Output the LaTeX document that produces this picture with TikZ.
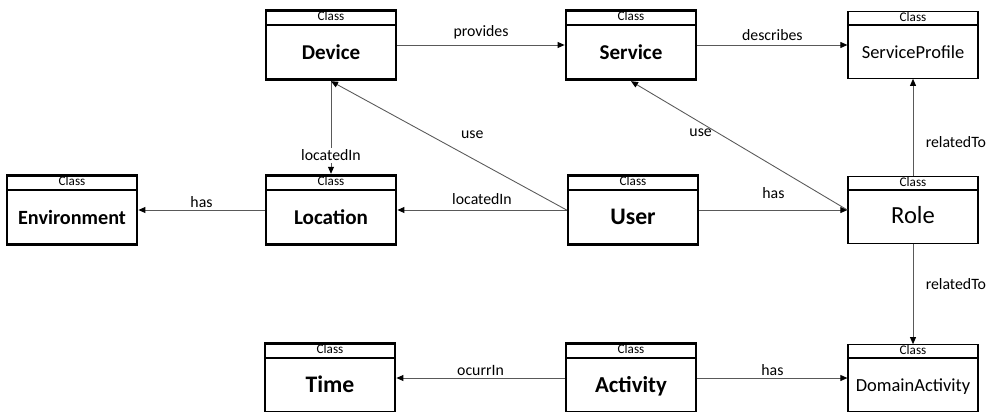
\documentclass[tikz,border=0pt]{standalone}
\usepackage{fontspec}
\setmainfont{Carlito}
\usetikzlibrary{shapes.multipart,arrows.meta}

\newcommand{\clshead}{\rule[-1.6pt]{0pt}{6.8pt}{\normalfont\fontsize{7.5}{7.5}\selectfont Class}}
\newcommand{\clsname}[1]{\rule[-10.9pt]{0pt}{29.6pt}#1}

\begin{document}
\begin{tikzpicture}[x=0.02cm, y=-0.02cm,
    cls/.style={rectangle split, rectangle split parts=2, draw, line width=1.6pt,
      minimum width=2.6cm, inner ysep=0pt, inner xsep=2pt,
      font=\bfseries\fontsize{12}{12}\selectfont},
    clsthin/.style={cls, line width=0.7pt, font=\fontsize{10.5}{12}\selectfont},
    conn/.style={draw=black!65, line width=0.5pt, -{Triangle[length=4pt, width=3.4pt, black]}},
    lbl/.style={font=\fontsize{9}{10}\selectfont, inner sep=1pt}]
  \useasboundingbox (0,0) rectangle (1000,412);

  % top row
  \node[cls] (device) at (331,45) {\clshead \nodepart{two} \clsname{Device}};
  \node[cls] (service) at (631,45) {\clshead \nodepart{two} \clsname{Service}};
  \node[clsthin] (profile) at (913,45) {\clshead \nodepart{two} \clsname{ServiceProfile}};

  % middle row
  \node[cls, font=\bfseries\fontsize{11.5}{12}\selectfont] (environment) at (72,210) {\clshead \nodepart{two} \clsname{Environment}};
  \node[cls] (location) at (331,210) {\clshead \nodepart{two} \clsname{Location}};
  \node[cls, font=\bfseries\fontsize{13.5}{14}\selectfont] (user) at (633,210) {\clshead \nodepart{two} \clsname{User}};
  \node[clsthin, font=\fontsize{14}{14}\selectfont] (role) at (913,210) {\clshead \nodepart{two} \clsname{Role}};

  % bottom row
  \node[cls, font=\bfseries\fontsize{13.5}{14}\selectfont] (time) at (330,378) {\clshead \nodepart{two} \clsname{Time}};
  \node[cls, font=\bfseries\fontsize{13}{14}\selectfont] (activity) at (631,378) {\clshead \nodepart{two} \clsname{Activity}};
  \node[clsthin] (domain) at (913,378) {\clshead \nodepart{two} \clsname{DomainActivity}};

  \draw[conn] (device) -- node[lbl, above=2pt] {provides} (service);
  \draw[conn] (service) -- node[lbl, above=1pt] {describes} (profile);
  \draw[conn] (device) -- node[lbl, pos=0.8, fill=white] {locatedIn} (location);
  \draw[conn] (location) -- node[lbl, above=0pt] {has} (environment);
  \draw[conn] (user) -- node[lbl, above=2pt] {locatedIn} (location);
  \draw[conn] (user.west) -- node[lbl, pos=0.4, above=0.35cm] {use} (device.south);
  \draw[conn] (user) -- node[lbl, above=5pt] {has} (role);
  \draw[conn] (role.west) -- node[lbl, pos=0.6, left=2pt] {use} (service.south);
  \draw[conn] (role) -- node[lbl, pos=0.35, right=6pt] {relatedTo} (profile);
  \draw[conn] (role) -- node[lbl, pos=0.4, right=6pt] {relatedTo} (domain);
  \draw[conn] (activity) -- node[lbl, above=0pt] {ocurrIn} (time);
  \draw[conn] (activity) -- node[lbl, above=0pt] {has} (domain);
\end{tikzpicture}
\end{document}
